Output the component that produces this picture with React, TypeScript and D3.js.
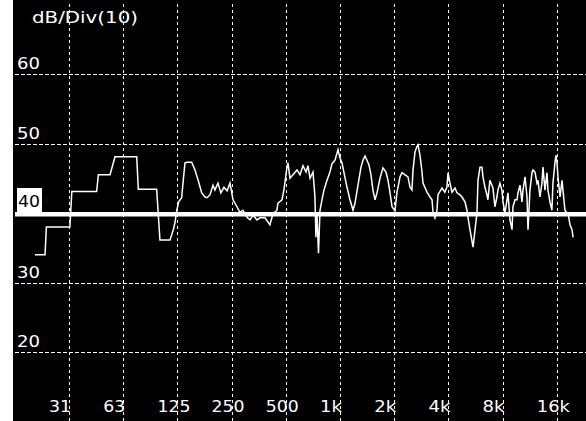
import React from "react";
import * as d3 from "d3";

// frequency ticks (Hz) and their labels
const freqTicks = [31.25, 62.5, 125, 250, 500, 1000, 2000, 4000, 8000, 16000];
const freqLabels = ["31", "63", "125", "250", "500", "1k", "2k", "4k", "8k", "16k"];
const dbTicks = [60, 50, 40, 30, 20];
const refDb = 40;

// response curve (Hz / dB)
const curveHz = [
  20.2, 23.0, 23.4, 31.6, 32.4, 44.5, 45.5, 52.8, 56.3, 74.3, 75.8, 95.9, 100, 113.7,
  118.6, 121.2, 123.4, 127, 132, 134.7, 137.7, 140.8, 150, 156.5, 163, 170.6, 177.9,
  182.5, 189.6, 197, 202, 210, 218, 226.6, 236, 245, 254.5, 267.8, 278, 289, 304.5,
  316.5, 328.8, 346, 359.5, 383, 398, 408, 424.5, 446.5, 452, 476, 488,
  507.7, 514, 527.5, 548, 577, 599.5, 623, 647.5, 664, 681.5, 708, 725.5, 735, 745,
  759.5, 774.5, 794, 814.5, 847, 879.5, 903, 938, 962, 975, 1000, 1026, 1052, 1094,
  1136, 1166, 1181, 1211, 1259, 1308, 1342, 1377, 1412, 1449, 1486, 1524, 1565, 1605,
  1668, 1732, 1800, 1848, 1896, 1946, 2020, 2072, 2100, 2154, 2210, 2296, 2386, 2448,
  2510, 2544, 2610, 2678, 2712, 2782, 2854, 2890, 3042, 3160, 3244, 3286, 3370, 3456,
  3500, 3686, 3822, 3924, 3980, 4082, 4188, 4352, 4464, 4640, 4760, 4944, 5072, 5136,
  5272, 5480, 5624, 5764, 5840, 5992, 6144, 6224, 6384, 6548, 6632, 6800, 7072, 7252,
  7440, 7536, 7732, 7932, 8040, 8248, 8464, 8568, 8792, 9024, 9136, 9376, 9616, 9744,
  9992, 10248, 10384, 10656, 10928, 11072, 11352, 11648, 11800, 12104, 12416, 12576,
  12904, 13232, 13408, 13752, 14112, 14288, 14656, 15032, 15232, 15624, 15824, 16048,
  16240, 16672, 17104, 17312, 17760, 18224, 18464, 18944, 19440, 19696,
];
const curveDb = [
  34.0, 34.0, 38.0, 38.0, 43.1, 43.1, 45.5, 45.5, 48.1, 48.1, 43.4, 43.4, 36.1, 36.1,
  37.6, 38.6, 40.1, 41.6, 42.2, 44.7, 47.2, 47.3, 47.3, 46.2, 44.7, 42.9, 42.3,
  42.2, 42.6, 44.0, 43.3, 44.3, 42.9, 43.7, 43.2, 44.3, 41.9, 40.9, 40.1, 40.4, 39.4,
  39.0, 39.7, 39.0, 39.3, 39.3, 38.7, 38.3, 39.9, 40.4, 41.4, 41.9, 43.3,
  46.6, 47.2, 45.0, 45.5, 46.2, 45.5, 46.8, 45.9, 46.8, 45.0, 45.9, 42.4, 36.5, 39.9,
  34.2, 40.4, 41.9, 43.3, 44.7, 45.9, 47.1, 47.6, 48.6, 49.1, 47.9, 47.2, 45.8, 43.7,
  41.9, 40.9, 40.4, 41.4, 44.0, 46.6, 47.6, 48.2, 47.6, 46.9, 45.5, 43.3, 41.9, 42.9,
  45.0, 46.5, 45.9, 44.7, 42.9, 40.9, 40.3, 43.0, 43.7, 45.2, 45.8, 45.5, 45.2, 43.7,
  43.3, 46.2, 48.8, 49.6, 49.8, 48.3, 45.9, 44.3, 43.0, 42.3, 41.9, 40.1, 39.3, 40.4,
  42.6, 43.6, 43.0, 43.7, 45.8, 44.3, 43.0, 43.6, 42.9, 42.6, 42.3, 41.6, 40.4, 39.4,
  37.6, 35.1, 37.6, 40.0, 44.7, 46.6, 46.6, 45.2, 43.7, 42.6, 41.9, 44.7, 43.6, 40.9,
  42.3, 43.3, 44.3, 43.3, 41.6, 40.0, 41.9, 42.9, 39.0, 37.6, 40.9, 41.9, 41.9, 42.9,
  44.0, 41.6, 43.3, 45.2, 42.3, 37.6, 43.3, 45.8, 46.2, 45.9, 44.3, 44.7,
  42.3, 44.3, 46.6, 43.3, 45.8, 43.3, 41.6, 40.4, 44.3, 47.2, 48.3, 47.2,
  45.2, 42.3, 44.7, 43.3, 40.4, 40.0, 40.0, 38.3, 37.6, 36.5,
];

const W = 586;
const H = 421;
const plotLeft = 13;
const font = "'DejaVu Sans', Verdana, sans-serif";

export default function App() {
  const x = d3.scaleLog().base(2).domain([31.25, 16000]).range([69, 556.8]);
  const y = d3.scaleLinear().domain([20, 60]).range([352, 74]);

  const line = d3
    .line<number>()
    .x((_, i) => x(curveHz[i]))
    .y((d) => y(d));

  const refY = y(refDb);

  return (
    <div style={{ position: "fixed", left: 0, top: 0 }}>
      <svg width={W} height={H} style={{ display: "block", background: "#fff" }}>
        <rect x={plotLeft} y={0} width={W - plotLeft} height={H} fill="#000" />

        {/* grid */}
        {dbTicks.map((t) => (
          <line
            key={"h" + t}
            x1={plotLeft + 2}
            x2={W}
            y1={Math.round(y(t)) + 0.5}
            y2={Math.round(y(t)) + 0.5}
            stroke="#fff"
            strokeWidth={1}
            strokeDasharray="4,2"
          />
        ))}
        {freqTicks.map((f) => (
          <line
            key={"v" + f}
            x1={Math.round(x(f)) + 0.5}
            x2={Math.round(x(f)) + 0.5}
            y1={4}
            y2={H}
            stroke="#fff"
            strokeWidth={1}
            strokeDasharray="3,3"
          />
        ))}

        {/* response */}
        <path d={line(curveDb) ?? ""} fill="none" stroke="#fff" strokeWidth={1.5} />

        {/* reference line */}
        <rect x={plotLeft + 2} y={refY - 1} width={W - plotLeft - 2} height={4.5} fill="#fff" />

        {/* y labels */}
        {dbTicks
          .filter((t) => t !== refDb)
          .map((t) => (
            <text key={"yl" + t} x={17} y={y(t) - 5} fill="#fff" fontFamily={font} fontSize={15} textLength={23} lengthAdjust="spacingAndGlyphs">
              {t}
            </text>
          ))}

        {/* boxed reference label */}
        <rect x={17} y={refY - 25} width={25} height={25} fill="#fff" />
        <text x={18} y={refY - 6} fill="#000" fontFamily={font} fontSize={15} textLength={22} lengthAdjust="spacingAndGlyphs">
          {refDb}
        </text>

        <text x={32} y={23} fill="#fff" fontFamily={font} fontSize={15} textLength={106} lengthAdjust="spacingAndGlyphs">
          dB/Div(10)
        </text>

        {/* x labels */}
        {freqTicks.map((f, i) => (
          <text
            key={"xl" + f}
            x={x(f) - 20}
            y={412}
            fill="#fff"
            fontFamily={font}
            fontSize={15}
            textLength={freqLabels[i].length * 11}
            lengthAdjust="spacingAndGlyphs"
          >
            {freqLabels[i]}
          </text>
        ))}
      </svg>
    </div>
  );
}
